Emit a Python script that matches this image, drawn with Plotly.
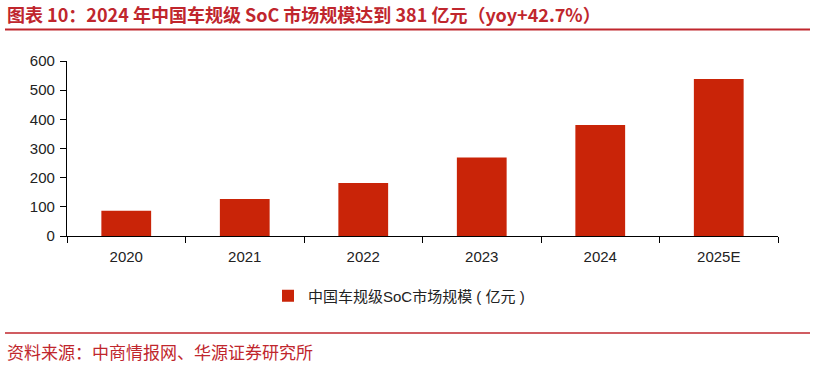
import plotly.graph_objects as go

categories = ["2020", "2021", "2022", "2023", "2024", "2025E"]
values = [87, 127, 182, 269, 381, 538]
series_name = "中国车规级SoC市场规模 ( 亿元 )"
title_text = "图表 10：2024 年中国车规级 SoC 市场规模达到 381 亿元（yoy+42.7%）"
source_text = "资料来源：中商情报网、华源证券研究所"

W, H = 815, 365
L, R, T, B = 67, 37, 61, 129
pw = W - L - R
ph = H - T - B

def px_x(x):
    return (x - L) / pw

def px_y(y):
    return (H - B - y) / ph

red_text = "#C0262D"
bar_color = "#C92408"

fig = go.Figure()
fig.add_trace(go.Bar(
    x=categories, y=values, name=series_name,
    marker=dict(color=bar_color, line=dict(width=0)),
    width=0.42, showlegend=True,
))

fig.update_layout(
    width=W, height=H,
    margin=dict(l=L, r=R, t=T, b=B, pad=0),
    paper_bgcolor="white", plot_bgcolor="white",
    font=dict(family="Liberation Sans, Noto Sans CJK SC, sans-serif", size=13, color="#222"),
    showlegend=True,
    legend=dict(orientation="h", x=px_x(268), xanchor="left", y=px_y(296), yanchor="middle",
                font=dict(size=15, color="#222", family="Liberation Sans, Noto Sans CJK SC, sans-serif"),
                itemwidth=30, bgcolor="rgba(0,0,0,0)"),
    xaxis=dict(type="category", showline=True, linecolor="#000", linewidth=1.2,
               ticks="outside", tickson="boundaries", ticklen=6, tickcolor="#000",
               ticklabelstandoff=7,
               tickfont=dict(size=15, color="#222"), showgrid=False, zeroline=False),
    yaxis=dict(range=[0, 600], dtick=100, showline=True, linecolor="#000", linewidth=1.2,
               ticks="outside", ticklen=6, tickcolor="#000", ticklabelstandoff=2,
               tickfont=dict(size=15, color="#222"), showgrid=False, zeroline=False),
)

fig.add_annotation(text="<b>" + title_text + "</b>", xref="paper", yref="paper",
                   x=px_x(5), y=px_y(14), xanchor="left", yanchor="middle", showarrow=False,
                   font=dict(size=18, color=red_text, family="Noto Sans CJK SC, sans-serif"))
fig.add_annotation(text=source_text, xref="paper", yref="paper",
                   x=px_x(5), y=px_y(351), xanchor="left", yanchor="middle", showarrow=False,
                   font=dict(size=17, color=red_text, family="Noto Sans CJK SC, serif"))

for yy, wdt in [(29.5, 2), (333, 1.5)]:
    fig.add_shape(type="line", xref="paper", yref="paper",
                  x0=px_x(5), x1=px_x(810), y0=px_y(yy), y1=px_y(yy),
                  line=dict(color=red_text, width=wdt))

fig.write_html("out.html")
